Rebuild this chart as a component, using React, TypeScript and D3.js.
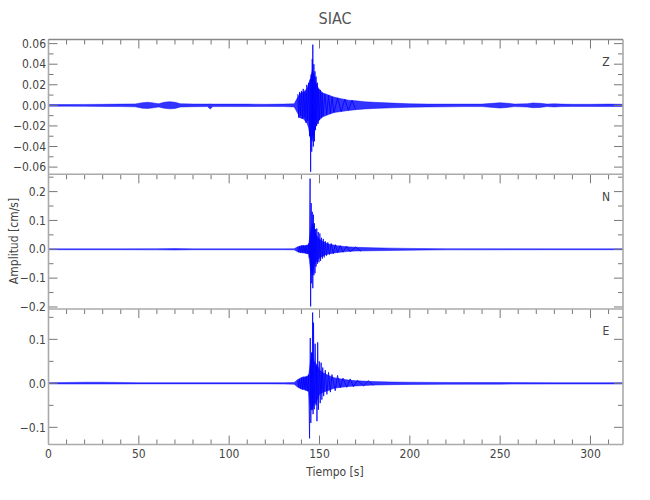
import React from 'react';
import * as d3 from 'd3';

const TITLE = 'SIAC';
const X_LABEL = 'Tiempo [s]';
const Y_LABEL = 'Amplitud [cm/s]';
const X_TICKS = [0, 50, 100, 150, 200, 250, 300];
const X_MINOR = [10, 20, 30, 40, 60, 70, 80, 90, 110, 120, 130, 140, 160, 170, 180, 190, 210, 220, 230, 240, 260, 270, 280, 290, 310];
const X_DOMAIN = [0, 318];

// ---- Z component ----
const Z_ENV_T = [0, 10, 20, 30, 40, 48, 52, 55, 58, 61, 64, 67, 70, 73, 80, 88, 89.5, 91, 100, 110, 120, 130, 136, 138, 139, 141, 143, 144, 145, 146, 147, 148, 149, 150, 152, 155, 158, 162, 166, 170, 175, 180, 190, 200, 210, 220, 230, 240, 246, 250, 254, 258, 265, 268, 272, 276, 280, 284, 290, 300, 310, 318];
const Z_ENV_UP = [0.0008, 0.0008, 0.0009, 0.001, 0.0012, 0.0014, 0.0026, 0.003, 0.0024, 0.0015, 0.003, 0.0036, 0.003, 0.0016, 0.0013, 0.0012, 0.0014, 0.0012, 0.0012, 0.0012, 0.001, 0.0012, 0.0015, 0.008, 0.011, 0.013, 0.016, 0.02, 0.026, 0.034, 0.03, 0.022, 0.018, 0.015, 0.012, 0.01, 0.008, 0.0065, 0.005, 0.0045, 0.0035, 0.003, 0.0022, 0.0015, 0.0012, 0.0012, 0.0012, 0.0012, 0.002, 0.0026, 0.002, 0.0012, 0.0016, 0.0023, 0.002, 0.0012, 0.0015, 0.0012, 0.001, 0.001, 0.0012, 0.001];
const Z_ENV_LO = [-0.0008, -0.0008, -0.0009, -0.001, -0.0012, -0.0014, -0.0028, -0.003, -0.0024, -0.0015, -0.0028, -0.0034, -0.003, -0.0016, -0.0013, -0.0012, -0.0036, -0.0012, -0.0012, -0.0012, -0.001, -0.0012, -0.0015, -0.008, -0.012, -0.013, -0.017, -0.022, -0.032, -0.035, -0.028, -0.02, -0.017, -0.014, -0.011, -0.009, -0.007, -0.006, -0.005, -0.0042, -0.0035, -0.003, -0.0024, -0.0018, -0.0015, -0.0014, -0.0012, -0.0012, -0.002, -0.0026, -0.002, -0.0012, -0.0016, -0.0023, -0.002, -0.0012, -0.0015, -0.0012, -0.001, -0.001, -0.0012, -0.001];
const Z_PK_T = [138, 138.5, 139, 139.5, 140, 140.5, 141, 141.5, 142, 142.5, 143, 143.5, 144, 144.5, 144.8, 145.1, 145.4, 145.7, 146.0, 146.15, 146.3, 146.6, 146.9, 147.2, 147.5, 147.8, 148.1, 148.4, 148.8, 149.2, 149.6, 150, 150.5, 151, 151.5, 152, 153, 154, 155, 156, 157, 158, 160, 162, 164, 166, 168, 170];
const Z_PK_V = [0.011, -0.012, 0.013, -0.01, 0.014, -0.013, 0.016, -0.012, 0.013, -0.017, 0.02, -0.015, 0.022, -0.03, 0.025, -0.0645, 0.03, -0.045, 0.045, -0.03, 0.059, -0.04, 0.04, -0.035, 0.033, -0.024, 0.028, -0.02, 0.022, -0.018, 0.016, -0.014, 0.015, -0.012, 0.012, -0.01, 0.011, -0.009, 0.01, -0.008, 0.008, -0.007, 0.007, -0.006, 0.006, -0.005, 0.005, -0.004];
const Z_MAJOR = [-0.06, -0.04, -0.02, 0, 0.02, 0.04, 0.06];
const Z_MINOR = [-0.05, -0.03, -0.01, 0.01, 0.03, 0.05];
const Z_DOMAIN = [-0.067, 0.064];

// ---- N component ----
const N_ENV_T = [0, 20, 40, 60, 70, 80, 100, 120, 130, 136, 138, 140, 142, 144, 145, 146, 147, 148, 150, 152, 155, 160, 165, 170, 180, 190, 200, 220, 250, 280, 318];
const N_ENV_UP = [0.0015, 0.0015, 0.0015, 0.002, 0.0025, 0.0015, 0.0015, 0.0015, 0.0015, 0.002, 0.009, 0.012, 0.013, 0.016, 0.06, 0.09, 0.07, 0.05, 0.035, 0.026, 0.018, 0.012, 0.009, 0.007, 0.005, 0.004, 0.003, 0.002, 0.0018, 0.0015, 0.0015];
const N_ENV_LO = [-0.0015, -0.0015, -0.0015, -0.002, -0.0025, -0.0015, -0.0015, -0.0015, -0.0015, -0.002, -0.009, -0.012, -0.013, -0.016, -0.07, -0.09, -0.06, -0.045, -0.03, -0.022, -0.016, -0.011, -0.008, -0.006, -0.005, -0.004, -0.003, -0.002, -0.0018, -0.0015, -0.0015];
const N_PK_T = [138, 138.5, 139, 139.5, 140, 140.5, 141, 141.5, 142, 142.5, 143, 143.5, 144, 144.4, 144.8, 145.1, 145.4, 145.7, 146.0, 146.3, 146.6, 146.9, 147.2, 147.5, 147.8, 148.1, 148.5, 148.9, 149.3, 149.7, 150.2, 150.6, 151.1, 151.6, 152.1, 152.6, 153.2, 153.9, 154.6, 155.5, 156.5, 157.6, 158.8, 160, 161.5, 163, 165, 167, 170, 173];
const N_PK_V = [0.008, -0.01, 0.011, -0.012, 0.013, -0.011, 0.014, -0.013, 0.012, -0.015, 0.014, -0.016, 0.02, -0.03, 0.245, -0.198, 0.16, -0.118, 0.13, -0.135, 0.12, -0.09, 0.09, -0.083, 0.07, -0.06, 0.072, -0.05, 0.06, -0.045, 0.055, -0.04, 0.04, -0.032, 0.036, -0.028, 0.028, -0.022, 0.024, -0.018, 0.02, -0.015, 0.016, -0.012, 0.013, -0.01, 0.011, -0.008, 0.008, -0.007];
const N_MAJOR = [-0.2, -0.1, 0, 0.1, 0.2];
const N_MINOR = [-0.15, -0.05, 0.05, 0.15, 0.25];
const N_DOMAIN = [-0.207, 0.26];

// ---- E component ----
const E_ENV_T = [0, 10, 20, 30, 40, 50, 60, 80, 100, 120, 130, 136, 138, 140, 142, 144, 145, 146, 147, 148, 149, 150, 152, 155, 158, 162, 166, 170, 180, 190, 200, 220, 250, 280, 318];
const E_ENV_UP = [0.0015, 0.002, 0.0025, 0.0025, 0.002, 0.0015, 0.0015, 0.0015, 0.0015, 0.0015, 0.0015, 0.002, 0.009, 0.013, 0.015, 0.018, 0.05, 0.07, 0.05, 0.045, 0.04, 0.03, 0.024, 0.018, 0.013, 0.01, 0.0075, 0.006, 0.004, 0.003, 0.0025, 0.002, 0.0018, 0.0015, 0.0015];
const E_ENV_LO = [-0.0012, -0.0015, -0.0015, -0.0015, -0.0015, -0.0012, -0.0012, -0.0012, -0.0012, -0.0012, -0.0015, -0.002, -0.009, -0.013, -0.015, -0.018, -0.06, -0.06, -0.045, -0.045, -0.035, -0.025, -0.02, -0.016, -0.011, -0.009, -0.007, -0.006, -0.004, -0.003, -0.0025, -0.002, -0.0018, -0.0015, -0.0015];
const E_PK_T = [138, 138.5, 139, 139.5, 140, 140.5, 141, 141.5, 142, 142.5, 143, 143.5, 144, 144.5, 144.9, 145.2, 145.6, 145.9, 146.2, 146.45, 146.7, 147.1, 147.6, 148.1, 148.35, 148.6, 149.0, 149.4, 149.9, 150.4, 150.9, 151.3, 151.8, 152.3, 153.2, 154.1, 155.0, 156.0, 156.9, 158.7, 160, 161.5, 163, 165.1, 167, 168.8, 171, 174.4, 177, 179.9];
const E_PK_V = [0.008, -0.009, 0.01, -0.012, 0.013, -0.014, 0.015, -0.013, 0.014, -0.016, 0.015, -0.018, 0.02, -0.125, 0.103, -0.09, 0.07, -0.06, 0.161, -0.07, 0.138, -0.059, 0.09, -0.05, 0.04, -0.086, 0.093, -0.06, 0.05, -0.045, 0.047, -0.037, 0.036, -0.029, 0.03, -0.025, 0.025, -0.02, 0.02, -0.017, 0.018, -0.01, 0.012, -0.009, 0.01, -0.0076, 0.007, -0.006, 0.006, -0.005];
const E_MAJOR = [-0.1, 0, 0.1];
const E_MINOR = [-0.05, 0.05, 0.15];
const E_DOMAIN = [-0.139, 0.169];

const PANELS = [
  { name: 'Z', envT: Z_ENV_T, up: Z_ENV_UP, lo: Z_ENV_LO, pkT: Z_PK_T, pkV: Z_PK_V, major: Z_MAJOR, minor: Z_MINOR, domain: Z_DOMAIN, fmt: '.2f' },
  { name: 'N', envT: N_ENV_T, up: N_ENV_UP, lo: N_ENV_LO, pkT: N_PK_T, pkV: N_PK_V, major: N_MAJOR, minor: N_MINOR, domain: N_DOMAIN, fmt: '.1f' },
  { name: 'E', envT: E_ENV_T, up: E_ENV_UP, lo: E_ENV_LO, pkT: E_PK_T, pkV: E_PK_V, major: E_MAJOR, minor: E_MINOR, domain: E_DOMAIN, fmt: '.1f' },
];

const LEFT = 48.5;
const RIGHT = 623;
const PANEL_EDGES = [39.5, 174.3, 309, 444.5];
const FRAME = '#aaaaaa';
const TICK = '#777777';
const TEXT = '#444444';
const TRACE = '#0000ff';
const FONT = "'DejaVu Sans Condensed', 'DejaVu Sans', sans-serif";

export default function App() {
  const x = d3.scaleLinear().domain(X_DOMAIN).range([LEFT, RIGHT]);
  const MAJ = 9;
  const MIN = 5;
  return (
    <svg
      width={650}
      height={500}
      viewBox="0 0 650 500"
      style={{ position: 'absolute', left: 0, top: 0, background: '#ffffff' }}
      fontFamily={FONT}
      fontStretch="condensed"
    >
      <rect x={0} y={0} width={650} height={500} fill="#ffffff" />
      <defs>
        {PANELS.map((p, i) => (
          <clipPath id={`clip${i}`} key={i}>
            <rect x={LEFT} y={PANEL_EDGES[i]} width={RIGHT - LEFT} height={PANEL_EDGES[i + 1] - PANEL_EDGES[i]} />
          </clipPath>
        ))}
      </defs>
      {PANELS.map((p, i) => {
        const top = PANEL_EDGES[i];
        const bot = PANEL_EDGES[i + 1];
        const y = d3.scaleLinear().domain(p.domain).range([bot, top]);
        const envIdx = d3.range(p.envT.length);
        const area = d3
          .area<number>()
          .x((k) => x(p.envT[k]))
          .y0((k) => y(p.lo[k]))
          .y1((k) => y(p.up[k]));
        const pkIdx = d3.range(p.pkT.length);
        const line = d3
          .line<number>()
          .x((k) => x(p.pkT[k]))
          .y((k) => y(p.pkV[k]));
        const f = d3.format(p.fmt);
        return (
          <g key={p.name}>
            <g clipPath={`url(#clip${i})`}>
              <path d={area(envIdx) || ''} fill={TRACE} fillOpacity={0.8} stroke={TRACE} strokeWidth={0.5} strokeOpacity={0.9} />
              <path d={line(pkIdx) || ''} fill="none" stroke={TRACE} strokeWidth={0.8} />
            </g>
            {/* y ticks left & right */}
            {p.major.map((v) => (
              <g key={`M${v}`}>
                <line x1={LEFT} x2={LEFT + MAJ} y1={y(v)} y2={y(v)} stroke={TICK} strokeWidth={1} />
                <line x1={RIGHT - MAJ} x2={RIGHT} y1={y(v)} y2={y(v)} stroke={TICK} strokeWidth={1} />
                <text x={46} y={y(v)} dy="0.35em" textAnchor="end" fontSize={12} fill={TEXT}>
                  {f(v)}
                </text>
              </g>
            ))}
            {p.minor.map((v) => (
              <g key={`m${v}`}>
                <line x1={LEFT} x2={LEFT + MIN} y1={y(v)} y2={y(v)} stroke={TICK} strokeWidth={1} />
                <line x1={RIGHT - MIN} x2={RIGHT} y1={y(v)} y2={y(v)} stroke={TICK} strokeWidth={1} />
              </g>
            ))}
            {/* x ticks on top of each panel */}
            {X_TICKS.map((t) => (
              <line key={`xt${t}`} x1={x(t)} x2={x(t)} y1={top} y2={top + MAJ} stroke={TICK} strokeWidth={1} />
            ))}
            {X_MINOR.map((t) => (
              <line key={`xm${t}`} x1={x(t)} x2={x(t)} y1={top} y2={top + MIN} stroke={TICK} strokeWidth={1} />
            ))}
            <text x={606} y={top + 22} dy="0.35em" textAnchor="middle" fontSize={12} fill={TEXT}>
              {p.name}
            </text>
          </g>
        );
      })}
      {/* bottom ticks */}
      {X_TICKS.map((t) => (
        <g key={`bx${t}`}>
          <line x1={x(t)} x2={x(t)} y1={PANEL_EDGES[3]} y2={PANEL_EDGES[3] - MAJ} stroke={TICK} strokeWidth={1} />
          <text x={x(t)} y={458} textAnchor="middle" fontSize={12} fill={TEXT}>
            {t}
          </text>
        </g>
      ))}
      {X_MINOR.map((t) => (
        <line key={`bm${t}`} x1={x(t)} x2={x(t)} y1={PANEL_EDGES[3]} y2={PANEL_EDGES[3] - MIN} stroke={TICK} strokeWidth={1} />
      ))}
      {/* frame */}
      <line x1={LEFT} x2={LEFT} y1={PANEL_EDGES[0]} y2={PANEL_EDGES[3]} stroke={FRAME} strokeWidth={1.6} />
      <line x1={RIGHT} x2={RIGHT} y1={PANEL_EDGES[0]} y2={PANEL_EDGES[3]} stroke={FRAME} strokeWidth={1.6} />
      {PANEL_EDGES.map((e, i) => (
        <line key={`h${i}`} x1={LEFT} x2={RIGHT} y1={e} y2={e} stroke={i === 0 ? '#888888' : FRAME} strokeWidth={1.6} />
      ))}
      <text x={335} y={24} textAnchor="middle" fontSize={16} fill="#555555">
        {TITLE}
      </text>
      <text x={335} y={476} textAnchor="middle" fontSize={12} fill={TEXT}>
        {X_LABEL}
      </text>
      <text transform="translate(18,241) rotate(-90)" textAnchor="middle" fontSize={12} fill={TEXT}>
        {Y_LABEL}
      </text>
    </svg>
  );
}
